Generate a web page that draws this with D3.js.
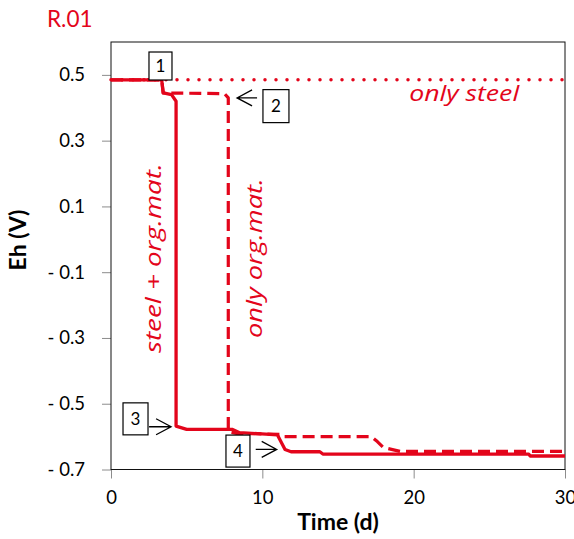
<!DOCTYPE html>
<html>
<head>
<meta charset="utf-8">
<script src="https://cdn.jsdelivr.net/npm/d3@7.9.0/dist/d3.min.js"></script>
<style>
  body { margin: 0; background: #fff; }
  svg { display: block; font-family: Lato, "Open Sans", sans-serif; }
</style>
</head>
<body>
<div id="chart"></div>
<script>
const xTicks = [0, 10, 20, 30];
const yTicks = [-0.7, -0.5, -0.3, -0.1, 0.1, 0.3, 0.5];

// Eh (V) against time (d)
const onlySteel = [[0, 0.485], [30, 0.485]];
const onlyOrgMat = [[0, 0.485], [3.35, 0.485], [3.45, 0.445], [7.5, 0.443], [7.75, 0.43], [7.75, -0.585],
  [8.3, -0.59], [11.2, -0.593], [11.4, -0.6], [17.2, -0.6], [17.6, -0.615], [18.0, -0.633], [19.1, -0.645], [30, -0.645]];
const steelOrgMat = [[0, 0.485], [3.35, 0.485], [3.45, 0.445], [4.0, 0.44], [4.3, 0.42], [4.3, -0.568],
  [5.0, -0.578], [8.0, -0.578], [8.5, -0.588], [9.3, -0.59], [11.0, -0.595], [11.5, -0.639], [11.9, -0.646],
  [13.8, -0.646], [14.0, -0.653], [27.6, -0.653], [27.7, -0.659], [30, -0.659]];

// numbered boxes (centre in data units) and their arrows (tip in data units)
const boxes = [
  { label: "1", day: 3.27, eh: 0.527, w: 23, h: 28 },
  { label: "2", day: 10.9, eh: 0.405, w: 26, h: 33 },
  { label: "3", day: 1.62, eh: -0.546, w: 25, h: 32 },
  { label: "4", day: 8.39, eh: -0.644, w: 24, h: 32 }
];
const arrows = [
  { day: 8.33, eh: 0.430, dir: -1, len: 20 },
  { day: 3.97, eh: -0.570, dir: 1, len: 22 },
  { day: 10.95, eh: -0.639, dir: 1, len: 21 }
];

const width = 574, height = 539;
const margin = { top: 42, right: 9, bottom: 69.5, left: 111 };
const red = "#e3051b";

const svg = d3.select("#chart").append("svg")
  .attr("width", width).attr("height", height);

const x = d3.scaleLinear().domain([0, 30]).range([margin.left, width - margin.right]);
const y = d3.scaleLinear().domain([-0.7, 0.6]).range([height - margin.bottom, margin.top]);

svg.append("text")
  .attr("x", 47).attr("y", 27)
  .attr("fill", red)
  .style("font-size", "22.5px")
  .text("R.01");

// axes
const fmt = v => (v < 0 ? "- " : "") + Math.abs(v).toFixed(1);

const yAxis = svg.append("g")
  .attr("transform", `translate(${margin.left},0)`)
  .call(d3.axisLeft(y).tickValues(yTicks).tickFormat(fmt).tickSize(9).tickPadding(17));

const xAxis = svg.append("g")
  .attr("transform", `translate(0,${height - margin.bottom})`)
  .call(d3.axisBottom(x).tickValues(xTicks).tickSize(9).tickPadding(12));

[yAxis, xAxis].forEach(g => {
  g.select(".domain").remove();
  g.selectAll(".tick line").attr("stroke", "#8c8c8c");
  g.selectAll(".tick text").attr("fill", "#000").style("font-size", "18.5px").style("font-family", "Lato, sans-serif");
});

svg.append("rect")
  .attr("x", margin.left).attr("y", margin.top)
  .attr("width", width - margin.left - margin.right)
  .attr("height", height - margin.top - margin.bottom)
  .attr("fill", "none").attr("stroke", "#111").attr("stroke-width", 1);

svg.append("text")
  .attr("transform", `translate(26,240) rotate(-90)`)
  .attr("text-anchor", "middle")
  .style("font-size", "23px").style("font-weight", "bold")
  .text("Eh (V)");

svg.append("text")
  .attr("x", (margin.left + width - margin.right) / 2).attr("y", 530)
  .attr("text-anchor", "middle")
  .style("font-size", "23px").style("font-weight", "bold")
  .text("Time (d)");

// lines
const line = d3.line().x(d => x(d[0])).y(d => y(d[1]));

svg.append("path").datum(onlySteel)
  .attr("d", line).attr("fill", "none").attr("stroke", red)
  .attr("stroke-width", 3.5).attr("stroke-linecap", "round").attr("stroke-dasharray", "0,11");

svg.append("path").datum(onlyOrgMat)
  .attr("d", line).attr("fill", "none").attr("stroke", red)
  .attr("stroke-width", 3.2).attr("stroke-dasharray", "12,6").attr("stroke-linejoin", "round");

svg.append("path").datum(steelOrgMat)
  .attr("d", line).attr("fill", "none").attr("stroke", red)
  .attr("stroke-width", 3.3).attr("stroke-linejoin", "round");

// series labels: the original text boxes are stretched along the text direction
function stretchedLabel(txt, px, py, rot, anchor, len) {
  const g = svg.append("g").attr("transform", `translate(${px},${py}) rotate(${rot})`);
  const t = g.append("text")
    .attr("fill", red).attr("text-anchor", anchor)
    .style("font-family", "'Open Sans', sans-serif")
    .style("font-size", "22.5px").style("font-style", "italic")
    .text(txt);
  const k = len / t.node().getComputedTextLength();
  t.attr("transform", `scale(${k},1)`);
}

stretchedLabel("only steel", x(26.97), y(0.421), 0, "end", 110);
stretchedLabel("steel + org.mat.", x(3.3), y(-0.057), -90, "middle", 190);
stretchedLabel("only org.mat.", x(9.97), y(-0.057), -90, "middle", 160);

// annotations
const box = svg.selectAll(".box").data(boxes).enter().append("g")
  .attr("transform", d => `translate(${x(d.day)},${y(d.eh)})`);
box.append("rect")
  .attr("x", d => -d.w / 2).attr("y", d => -d.h / 2)
  .attr("width", d => d.w).attr("height", d => d.h)
  .attr("fill", "#fff").attr("stroke", "#000").attr("stroke-width", 1.2);
box.append("text")
  .attr("text-anchor", "middle").attr("dy", "0.35em")
  .style("font-size", "17px")
  .text(d => d.label);

svg.selectAll(".arrow").data(arrows).enter().append("path")
  .attr("fill", "none").attr("stroke", "#000").attr("stroke-width", 1.3)
  .attr("d", d => {
    const tx = x(d.day), ty = y(d.eh), b = -d.dir;
    return `M${tx + b * d.len},${ty}L${tx},${ty}M${tx + b * 15},${ty - 8}L${tx},${ty}L${tx + b * 15},${ty + 8}`;
  });
</script>
</body>
</html>
